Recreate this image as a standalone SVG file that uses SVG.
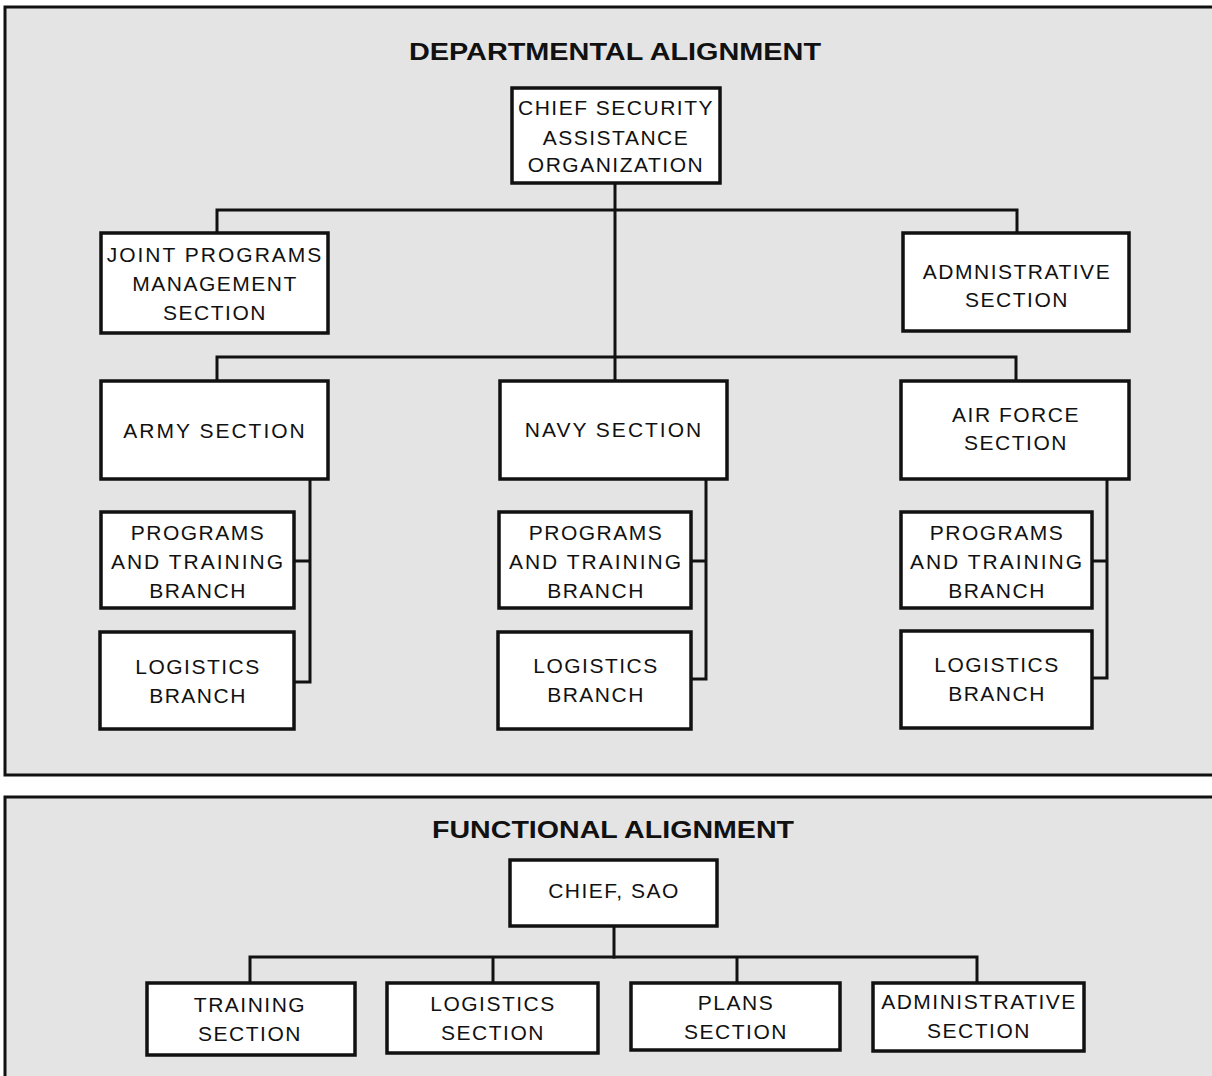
<svg xmlns="http://www.w3.org/2000/svg" width="1212" height="1076" viewBox="0 0 1212 1076">
<style>
.panel{fill:#e4e4e4;stroke:#111;stroke-width:3}
.box{fill:#fff;stroke:#111;stroke-width:3.5}
.conn{fill:none;stroke:#111;stroke-width:3;stroke-linecap:square}
.t{font-family:"Liberation Sans",Arial,Helvetica,sans-serif;font-size:21px;letter-spacing:1.5px;fill:#111;text-anchor:middle}
.w{letter-spacing:2px}
.title{font-family:"Liberation Sans",Arial,Helvetica,sans-serif;font-size:24px;font-weight:bold;fill:#111}
</style>
<rect x="0" y="0" width="1212" height="1076" fill="#fff"/>
<rect x="6.5" y="8.5" width="1207" height="765" fill="#e4e4e4"/>
<rect x="6.5" y="798.5" width="1207" height="280" fill="#e4e4e4"/>
<path class="panel" fill="none" d="M1214,7 H5 V775 H1214"/>
<path class="panel" fill="none" d="M1214,797 H5 V1080"/>
<text class="title" x="409" y="60" textLength="412" lengthAdjust="spacingAndGlyphs">DEPARTMENTAL ALIGNMENT</text>
<text class="title" x="432" y="838" textLength="362" lengthAdjust="spacingAndGlyphs">FUNCTIONAL ALIGNMENT</text>

<g id="connectors">
<path class="conn" d="M615,184 V380"/>
<path class="conn" d="M217,233 V210 H1017 V233"/>
<path class="conn" d="M217,380 V357 H1016 V380"/>
<path class="conn" d="M310,479 V682 H294 M294,561 H310"/>
<path class="conn" d="M706,479 V679 H691 M691,561 H706"/>
<path class="conn" d="M1107,479 V678 H1092 M1092,561 H1107"/>
<path class="conn" d="M614,926 V957"/>
<path class="conn" d="M250,983 V957 H977 V983 M493,957 V983 M737,957 V983"/>
</g>

<g id="chief">
<rect class="box" x="512" y="88" width="208" height="95"/>
<text class="t" x="616" y="115" letter-spacing="1">CHIEF SECURITY</text>
<text class="t" x="616" y="145" letter-spacing="1">ASSISTANCE</text>
<text class="t" x="616" y="172" letter-spacing="1">ORGANIZATION</text>
</g>
<g id="joint">
<rect class="box" x="101" y="233" width="227" height="100"/>
<text class="t w" x="215" y="262" letter-spacing="2.4">JOINT PROGRAMS</text>
<text class="t" x="215" y="291">MANAGEMENT</text>
<text class="t" x="215" y="320">SECTION</text>
</g>
<g id="admin-top">
<rect class="box" x="903" y="233" width="226" height="98"/>
<text class="t" x="1017" y="279" letter-spacing="1.6">ADMNISTRATIVE</text>
<text class="t" x="1017" y="307">SECTION</text>
</g>
<g id="army">
<rect class="box" x="101" y="381" width="227" height="98"/>
<text class="t w" x="215" y="438">ARMY SECTION</text>
</g>
<g id="navy">
<rect class="box" x="500" y="381" width="227" height="98"/>
<text class="t w" x="614" y="437">NAVY SECTION</text>
</g>
<g id="airforce">
<rect class="box" x="901" y="381" width="228" height="98"/>
<text class="t" x="1016" y="422">AIR FORCE</text>
<text class="t" x="1016" y="450">SECTION</text>
</g>
<g id="army-pt">
<rect class="box" x="101" y="512" width="193" height="96"/>
<text class="t" x="198" y="540">PROGRAMS</text>
<text class="t w" x="198" y="569">AND TRAINING</text>
<text class="t" x="198" y="598">BRANCH</text>
</g>
<g id="army-log">
<rect class="box" x="100" y="632" width="194" height="97"/>
<text class="t" x="198" y="674">LOGISTICS</text>
<text class="t" x="198" y="703">BRANCH</text>
</g>
<g id="navy-pt">
<rect class="box" x="499" y="512" width="192" height="96"/>
<text class="t" x="596" y="540">PROGRAMS</text>
<text class="t w" x="596" y="569">AND TRAINING</text>
<text class="t" x="596" y="598">BRANCH</text>
</g>
<g id="navy-log">
<rect class="box" x="498" y="632" width="193" height="97"/>
<text class="t" x="596" y="673">LOGISTICS</text>
<text class="t" x="596" y="702">BRANCH</text>
</g>
<g id="af-pt">
<rect class="box" x="901" y="512" width="191" height="96"/>
<text class="t" x="997" y="540">PROGRAMS</text>
<text class="t w" x="997" y="569">AND TRAINING</text>
<text class="t" x="997" y="598">BRANCH</text>
</g>
<g id="af-log">
<rect class="box" x="901" y="631" width="191" height="97"/>
<text class="t" x="997" y="672">LOGISTICS</text>
<text class="t" x="997" y="701">BRANCH</text>
</g>

<g id="chief-sao">
<rect class="box" x="510" y="860" width="207" height="66"/>
<text class="t" x="614" y="898">CHIEF, SAO</text>
</g>
<g id="training">
<rect class="box" x="147" y="983" width="208" height="72"/>
<text class="t" x="250" y="1012">TRAINING</text>
<text class="t" x="250" y="1041">SECTION</text>
</g>
<g id="logistics">
<rect class="box" x="387" y="983" width="211" height="70"/>
<text class="t" x="493" y="1011">LOGISTICS</text>
<text class="t" x="493" y="1040">SECTION</text>
</g>
<g id="plans">
<rect class="box" x="631" y="983" width="209" height="67"/>
<text class="t" x="736" y="1010">PLANS</text>
<text class="t" x="736" y="1039">SECTION</text>
</g>
<g id="admin-bottom">
<rect class="box" x="873" y="983" width="211" height="68"/>
<text class="t" x="979" y="1009" letter-spacing="1.1">ADMINISTRATIVE</text>
<text class="t" x="979" y="1038">SECTION</text>
</g>
</svg>
